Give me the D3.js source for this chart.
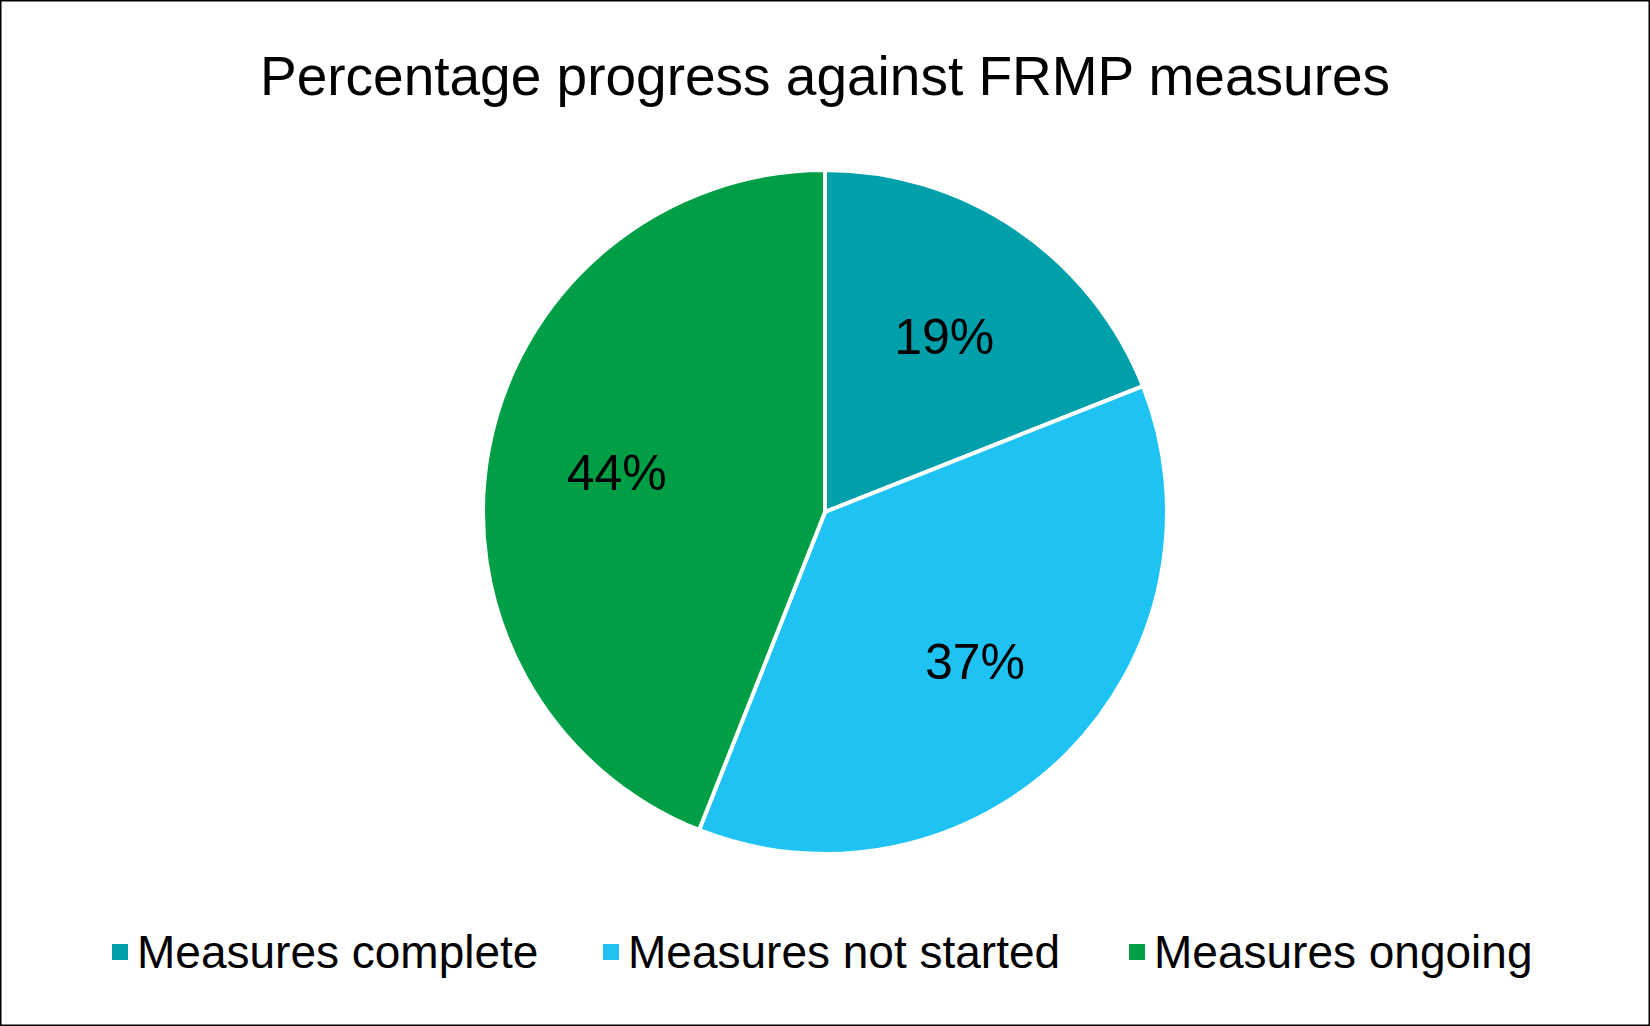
<!DOCTYPE html>
<html><head><meta charset="utf-8">
<script src="https://cdn.jsdelivr.net/npm/d3@7"></script>
<style>body{margin:0;background:#fff}</style></head>
<body><svg id="c" width="1650" height="1026"></svg>
<script>
const categories = ["Measures complete","Measures not started","Measures ongoing"];
const values = [19,37,44];
const colors = ["#00A0AB","#1FC3F3","#009E45"];
const title = "Percentage progress against FRMP measures";

const svg = d3.select("#c");
const W=1650,H=1026;
svg.append("rect").attr("x",0.5).attr("y",0.5).attr("width",W-1).attr("height",H-1).attr("fill","#fff").attr("stroke","#000").attr("stroke-width",2);
svg.append("text").attr("x",825).attr("y",95).attr("text-anchor","middle")
  .attr("font-family","Liberation Sans, Arial").attr("font-size",55).attr("fill","#000").text(title);

const cx=825, cy=512, r=342;
const pie = d3.pie().sort(null)(values);
const arc = d3.arc().innerRadius(0).outerRadius(r);
const g = svg.append("g").attr("transform",`translate(${cx},${cy})`);
g.selectAll("path").data(pie).join("path").attr("d",arc)
  .attr("fill",(d,i)=>colors[i]).attr("stroke","#fff").attr("stroke-width",4);
const la = d3.arc().innerRadius(r*0.62).outerRadius(r*0.62);
g.selectAll("text").data(pie).join("text")
  .attr("transform",d=>`translate(${la.centroid(d)})`)
  .attr("text-anchor","middle").attr("dy","0.35em")
  .attr("font-family","Liberation Sans, Arial").attr("font-size",50).attr("fill","#000")
  .text(d=>d.data+"%");

const lx=[112,603,1129];
const lg = svg.append("g");
categories.forEach((c,i)=>{
  lg.append("rect").attr("x",lx[i]).attr("y",944).attr("width",16).attr("height",16).attr("fill",colors[i]);
  lg.append("text").attr("x",lx[i]+25).attr("y",968).attr("font-family","Liberation Sans, Arial")
    .attr("font-size",46).attr("fill","#000").text(c);
});
</script></body></html>
